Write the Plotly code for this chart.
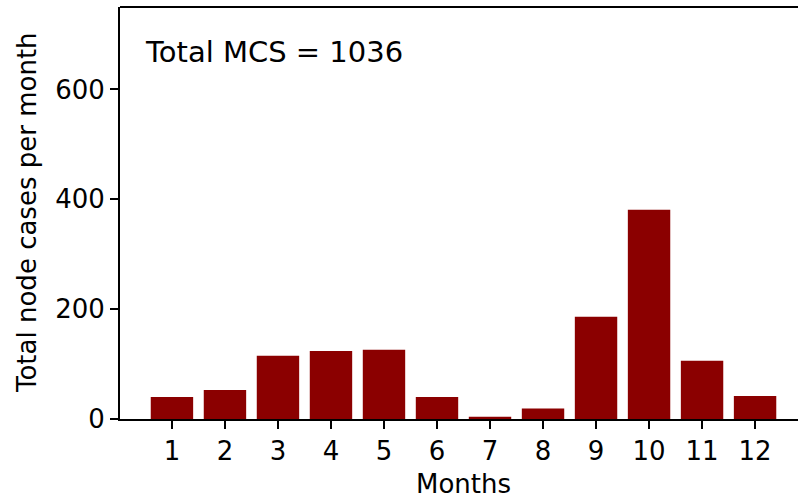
import plotly.graph_objects as go

months = [1, 2, 3, 4, 5, 6, 7, 8, 9, 10, 11, 12]
cases = [40, 53, 115, 124, 126, 40, 4, 19, 186, 381, 106, 42]
tick_labels = [str(m) for m in months]
total_label = "Total MCS = 1036"

FONT = "DejaVu Sans"

fig = go.Figure()
fig.add_trace(go.Bar(x=months, y=cases, marker=dict(color="#8b0000", line=dict(width=0)), width=0.8))

fig.update_layout(
    width=799, height=498,
    margin=dict(l=120, r=1, t=7, b=79),
    plot_bgcolor="white", paper_bgcolor="white",
    font=dict(family=FONT, size=26, color="black"),
    showlegend=False,
    bargap=0.2,
)
fig.update_xaxes(
    range=[0.02, 12.81], tickvals=months, ticktext=tick_labels,
    showgrid=False, zeroline=False,
    showline=True, linecolor="black", linewidth=2,
    ticks="outside", ticklen=8, tickwidth=2, tickcolor="black",
    tickfont=dict(size=26),
    mirror=False,
)
fig.update_yaxes(
    range=[0, 750], tickvals=[0, 200, 400, 600],
    showgrid=False, zeroline=False,
    showline=True, linecolor="black", linewidth=2,
    ticks="outside", ticklen=8, tickwidth=2, tickcolor="black",
    tickfont=dict(size=26),
)
# top spine
fig.add_shape(type="line", xref="paper", yref="paper", x0=0, x1=1, y0=1, y1=1,
              line=dict(color="black", width=2))

fig.add_annotation(text=total_label, xref="paper", yref="paper", x=(143-120)/678, y=1-(52-7)/412,
                   xanchor="left", yanchor="middle", showarrow=False, font=dict(size=29))
fig.add_annotation(text="Months", xref="paper", yref="paper", x=(463-120)/678, y=-(484-419)/412,
                   xanchor="center", yanchor="middle", showarrow=False, font=dict(size=26))
fig.add_annotation(text="Total node cases per month", xref="paper", yref="paper", x=-(120-27)/678, y=(419-213)/412,
                   xanchor="center", yanchor="middle", textangle=-90, showarrow=False, font=dict(size=26))

fig.write_html("out.html", post_script="document.body.style.margin='0';",
               config={"displayModeBar": False})
